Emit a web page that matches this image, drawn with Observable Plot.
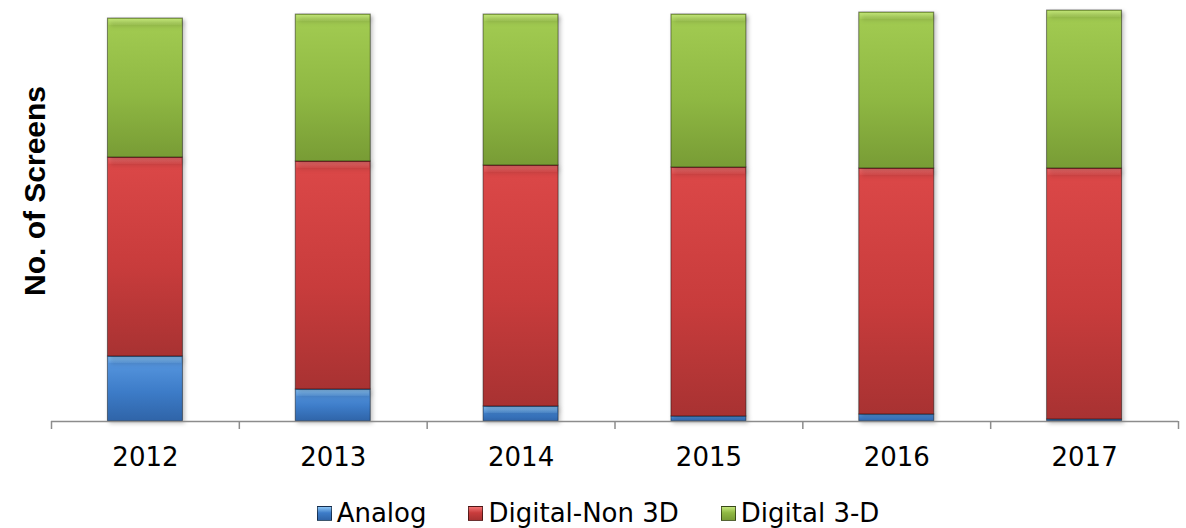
<!DOCTYPE html>
<html>
<head>
<meta charset="utf-8">
<script src="https://cdn.jsdelivr.net/npm/d3@7"></script>
<script src="https://cdn.jsdelivr.net/npm/@observablehq/plot@0.6"></script>
<style>
  html, body { margin: 0; padding: 0; background: #fff; }
  #wrap { position: relative; width: 1186px; height: 528px; font-family: "DejaVu Sans", Verdana, sans-serif; }
  #ylabel { position: absolute; left: 35px; top: 191px; transform: translate(-50%, -50%) rotate(-90deg);
            font-family: "Liberation Sans", Arial, sans-serif; font-weight: bold; font-size: 30px; white-space: nowrap; color: #000; }
  #legend { position: absolute; left: 0; top: 496px; width: 1186px; height: 34px; display: flex; justify-content: center; align-items: center;
            font-size: 26px; color: #000; padding-left: 10px; box-sizing: border-box; }
  .item { display: flex; align-items: center; margin: 0 21px; }
  .sw { width: 15px; height: 15px; margin-right: 5px; box-sizing: border-box; border: 1px solid rgba(0,0,0,0.55); }
</style>
</head>
<body>
<div id="wrap">
  <div id="chart"></div>
  <div id="ylabel">No. of Screens</div>
  <div id="legend"></div>
</div>
<script>
// ---- data (relative units) ----
const years = ["2012", "2013", "2014", "2015", "2016", "2017"];
const seriesNames = ["Analog", "Digital-Non 3D", "Digital 3-D"];
const analog = [65, 32, 15, 5, 7, 2];
const digitalNon3D = [199, 228, 241, 249, 246, 251];
const digital3D = [139, 147, 151, 153, 156, 158];
const seriesColors = {
  "Analog": ["#5a9ae2", "#3d7cc8", "#2f64a8", "#8cc6f6"],
  "Digital-Non 3D": ["#dc4848", "#c83c3c", "#a83232", "#f27272"],
  "Digital 3-D": ["#a3cc52", "#8fb843", "#789c35", "#c2e47a"]
};

// build stacked table
const values = [analog, digitalNon3D, digital3D];
const rows = [];
years.forEach((yr, i) => {
  let base = 0;
  seriesNames.forEach((s, k) => {
    const v = values[k][i];
    rows.push({year: yr, index: i, series: s, k, y1: base, y2: base + v, value: v});
    base += v;
  });
});
const gid = s => "g" + seriesNames.indexOf(s);

const W = 1186, H = 480, mL = 51, mR = 8, mT = 0, mB = 59;
const band = (W - mL - mR) / years.length;
const barW = 75;
const inset = (band - barW) / 2;

const marks = [];
seriesNames.forEach(s => {
  marks.push(Plot.rectY(rows.filter(r => r.series === s), {
    x1: d => d.index, x2: d => d.index + 1, y1: "y1", y2: "y2",
    insetLeft: inset, insetRight: inset,
    fill: `url(#${gid(s)})`, stroke: "rgba(0,0,0,0.45)", strokeWidth: 1
  }));
  // top bevel highlight strip
  marks.push(Plot.rectY(rows.filter(r => r.series === s && r.value > 12), {
    x1: d => d.index, x2: d => d.index + 1, y1: "y2", y2: "y2",
    insetLeft: inset + 1, insetRight: inset + 1, insetTop: 1, insetBottom: -7,
    fill: `url(#b${gid(s)})`
  }));
});

const chart = Plot.plot({
  width: W, height: H,
  marginLeft: mL, marginRight: mR, marginTop: mT, marginBottom: mB,
  x: {type: "linear", domain: [0, years.length], axis: null},
  y: {domain: [0, H - mT - mB], axis: null},
  style: {fontFamily: "'DejaVu Sans', Verdana, sans-serif", background: "#fff"},
  marks: [
    ...marks,
    Plot.ruleY([0], {stroke: "#8c8c8c", strokeWidth: 1.5}),
    Plot.axisX({ticks: d3.range(years.length + 1), tickSize: 8, tickFormat: () => "", stroke: "#8c8c8c", strokeWidth: 1.5}),
    Plot.text(years, {x: (d, i) => i + 0.5, y: () => 0, text: d => d, dy: 36, fontSize: 26, fill: "#000"})
  ]
});

// gradients
const svg = d3.select(chart);
const defs = svg.insert("defs", ":first-child");
seriesNames.forEach(s => {
  const c = seriesColors[s];
  const g = defs.append("linearGradient").attr("id", gid(s)).attr("x1", 0).attr("y1", 0).attr("x2", 0).attr("y2", 1);
  g.append("stop").attr("offset", "0%").attr("stop-color", c[0]);
  g.append("stop").attr("offset", "55%").attr("stop-color", c[1]);
  g.append("stop").attr("offset", "100%").attr("stop-color", c[2]);
  const b = defs.append("linearGradient").attr("id", "b" + gid(s)).attr("x1", 0).attr("y1", 0).attr("x2", 0).attr("y2", 1);
  b.append("stop").attr("offset", "0%").attr("stop-color", c[3]).attr("stop-opacity", 0.85);
  b.append("stop").attr("offset", "100%").attr("stop-color", c[3]).attr("stop-opacity", 0.15);
});
svg.selectAll("g[aria-label='rect']").style("filter", "drop-shadow(2px 2px 2px rgba(0,0,0,0.25))");

document.getElementById("chart").appendChild(chart);

// legend
const legend = d3.select("#legend");
seriesNames.forEach(s => {
  const c = seriesColors[s];
  const it = legend.append("div").attr("class", "item");
  it.append("div").attr("class", "sw").style("background", `linear-gradient(${c[3]}, ${c[1]} 45%, ${c[2]})`);
  it.append("span").text(s);
});
</script>
</body>
</html>
